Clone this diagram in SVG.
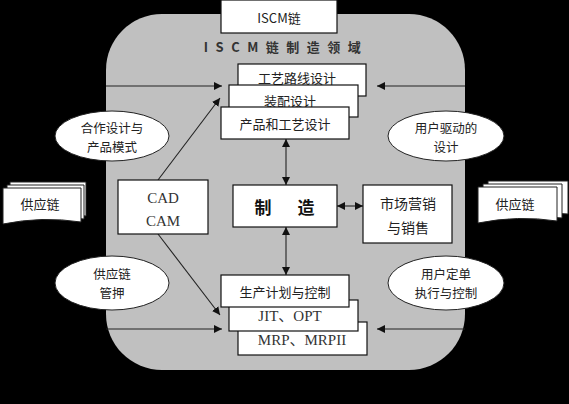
<svg xmlns="http://www.w3.org/2000/svg" width="569" height="404" viewBox="0 0 569 404">
<defs>
<style>
.box{fill:#fff;stroke:#111;stroke-width:1.2}
.ell{fill:#fff;stroke:#222;stroke-width:1}
.page{fill:#fff;stroke:#222;stroke-width:1}
.cn{font-family:"Noto Sans CJK SC","Noto Sans",sans-serif;font-size:13px;fill:#222;text-anchor:middle;dominant-baseline:central}
.el{font-size:12.5px}
.lat{font-family:"Liberation Serif","Noto Sans CJK SC",serif;font-size:15px;fill:#333;text-anchor:middle;dominant-baseline:central}
.ln{stroke:#222;stroke-width:1.1;fill:none}
</style>
<marker id="ah" viewBox="0 0 10 10" refX="10" refY="5" markerWidth="8" markerHeight="8" markerUnits="userSpaceOnUse" orient="auto-start-reverse"><path d="M0,0 L10,5 L0,10 z" fill="#111"/></marker>
</defs>
<rect width="569" height="404" fill="#000"/>
<rect id="domain" x="106" y="14" width="359" height="356" rx="56" ry="56" fill="#c0c0c0"/>
<g id="iscm">
<rect class="box" x="221" y="0" width="116" height="33"/>
<text class="cn" x="279" y="17" style="font-size:13px">ISCM链</text>
</g>
<text id="title" x="286" y="46" class="cn" style="font-size:13px;fill:#333;font-weight:bold;letter-spacing:7.5px">ISCM链制造领域</text>
<g id="connectors">
<line class="ln" x1="106" y1="86" x2="222" y2="86" marker-end="url(#ah)"/>
<line class="ln" x1="465" y1="86" x2="377" y2="86" marker-end="url(#ah)"/>
<line class="ln" x1="106" y1="329" x2="222" y2="329" marker-end="url(#ah)"/>
<line class="ln" x1="465" y1="329" x2="377" y2="329" marker-end="url(#ah)"/>
<line class="ln" x1="158" y1="180" x2="220" y2="98" marker-end="url(#ah)"/>
<line class="ln" x1="158" y1="234" x2="220" y2="315" marker-end="url(#ah)"/>
<line class="ln" x1="286" y1="139" x2="286" y2="185" marker-start="url(#ah)" marker-end="url(#ah)"/>
<line class="ln" x1="286" y1="227" x2="286" y2="275" marker-start="url(#ah)" marker-end="url(#ah)"/>
<line class="ln" x1="337" y1="206" x2="363" y2="206" marker-start="url(#ah)" marker-end="url(#ah)"/>
</g>
<g id="route">
<rect class="box" x="238" y="64" width="128" height="32"/>
<text class="cn" x="297" y="77">工艺路线设计</text>
</g>
<g id="assembly">
<rect class="box" x="229" y="85" width="129" height="32"/>
<text class="cn" x="290" y="100">装配设计</text>
</g>
<g id="product">
<rect class="box" x="221" y="107" width="128" height="32"/>
<text class="cn" x="285" y="123">产品和工艺设计</text>
</g>
<g id="mrp">
<rect class="box" x="238" y="322" width="129" height="33"/>
<text class="lat" x="302" y="340">MRP、MRPII</text>
</g>
<g id="jit">
<rect class="box" x="229" y="300" width="129" height="31"/>
<text class="lat" x="290" y="316">JIT、OPT</text>
</g>
<g id="plan">
<rect class="box" x="221" y="275" width="128" height="32"/>
<text class="cn" x="285" y="291">生产计划与控制</text>
</g>
<g id="cad">
<rect class="box" x="118" y="180" width="90" height="54"/>
<text class="lat" x="163" y="198">CAD</text>
<text class="lat" x="163" y="221">CAM</text>
</g>
<g id="mfg">
<rect class="box" x="233" y="185" width="104" height="42"/>
<text class="cn" x="263" y="206" style="font-size:17px;font-weight:bold;fill:#111">制</text>
<text class="cn" x="306" y="206" style="font-size:17px;font-weight:bold;fill:#111">造</text>
</g>
<g id="market">
<rect class="box" x="363" y="185" width="89" height="58"/>
<text class="cn" x="408" y="203" style="font-size:14px">市场营销</text>
<text class="cn" x="408" y="227" style="font-size:14px">与销售</text>
</g>
<g id="coop">
<ellipse class="ell" cx="112" cy="136" rx="57" ry="25"/>
<text class="cn el" x="112" y="127">合作设计与</text>
<text class="cn el" x="112" y="146">产品模式</text>
</g>
<g id="userdesign">
<ellipse class="ell" cx="446" cy="136" rx="58" ry="25"/>
<text class="cn el" x="446" y="127">用户驱动的</text>
<text class="cn el" x="446" y="146">设计</text>
</g>
<g id="scm">
<ellipse class="ell" cx="112" cy="283" rx="57" ry="27"/>
<text class="cn el" x="112" y="273">供应链</text>
<text class="cn el" x="112" y="292">管押</text>
</g>
<g id="userorder">
<ellipse class="ell" cx="446" cy="283" rx="58" ry="27"/>
<text class="cn el" x="446" y="273">用户定单</text>
<text class="cn el" x="446" y="292">执行与控制</text>
</g>
<g id="supply-left">
<path class="page" d="M10,182 H86 V216 Q48,212 10,216 Z"/>
<path class="page" d="M7,185 H84 V219 Q45,215 7,219 Z"/>
<path class="page" d="M3,188 H81 V222 Q42,216 3,224 Z"/>
<text class="cn" x="40" y="203">供应链</text>
</g>
<g id="supply-right">
<path class="page" d="M488,181 H568 V214 Q528,211 488,215 Z"/>
<path class="page" d="M483,184 H562 V218 Q522,214 483,219 Z"/>
<path class="page" d="M478,187 H557 V221 Q518,215 478,223 Z"/>
<text class="cn" x="515" y="203">供应链</text>
</g>
</svg>
